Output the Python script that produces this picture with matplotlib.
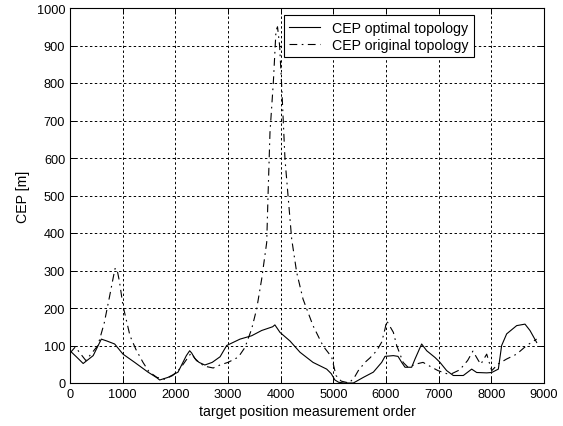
"""
CEP of optimal vs original topology along the target position measurement order.
Outputs: out.png
"""

import matplotlib

matplotlib.use("Agg")
import matplotlib.pyplot as plt

# Solid curve: CEP optimal topology
opt_x = [0, 120, 250, 440, 595, 700, 848, 1006, 1228, 1481, 1639, 1703, 1861, 2051,
         2209, 2272, 2310, 2367, 2450, 2560, 2700, 2850, 2975, 3228, 3449, 3639, 3848,
         3890, 3987, 4177, 4367, 4614, 4874, 4960, 5030, 5100, 5200, 5380, 5570, 5760,
         5918, 5981, 6140, 6228, 6298, 6361, 6487, 6551, 6677, 6773, 6931, 7025, 7152,
         7278, 7468, 7627, 7722, 7912, 8007, 8133, 8196, 8291, 8481, 8639, 8734, 8861]
opt_y = [86, 70, 52, 73, 117, 112, 104, 77, 55, 29, 15, 8, 15, 29,
         73, 86, 80, 66, 55, 48, 55, 70, 100, 117, 126, 140, 150,
         155, 135, 112, 82, 55, 37, 25, 8, 2, 0, 0, 15, 29,
         55, 71, 73, 71, 55, 42, 42, 64, 104, 86, 68, 55, 33,
         20, 20, 37, 28, 27, 28, 37, 100, 131, 153, 157, 140, 108]

# Dash-dot curve: CEP original topology
org_x = [0, 100, 300, 530, 650, 750, 854, 890, 940, 1006, 1139, 1250, 1386, 1500,
         1650, 1800, 1950, 2100, 2250, 2300, 2400, 2550, 2719, 2848, 3000, 3196, 3323,
         3449, 3545, 3639, 3735, 3760, 3797, 3861, 3911, 3940, 3980, 4019, 4082, 4145,
         4209, 4304, 4424, 4614, 4804, 4969, 5050, 5150, 5300, 5400, 5474, 5601, 5696,
         5823, 5918, 5981, 6013, 6140, 6203, 6325, 6418, 6583, 6703, 6868, 6988, 7150,
         7250, 7400, 7550, 7650, 7754, 7800, 7912, 8007, 8133, 8291, 8481, 8671, 8860]
org_y = [80, 96, 60, 100, 160, 230, 305, 305, 270, 206, 126, 90, 55, 30,
         15, 10, 20, 40, 70, 80, 60, 45, 40, 48, 55, 69, 95,
         144, 198, 277, 375, 499, 668, 802, 939, 950, 900, 793, 597, 491,
         384, 295, 224, 153, 99, 69, 20, 5, 0, 15, 33, 55, 67,
         86, 109, 144, 166, 135, 100, 55, 42, 51, 55, 42, 33, 25,
         25, 35, 60, 85, 60, 50, 77, 33, 51, 64, 77, 100, 117]

x_ticks = [0, 1000, 2000, 3000, 4000, 5000, 6000, 7000, 8000, 9000]
y_ticks = [0, 100, 200, 300, 400, 500, 600, 700, 800, 900, 1000]


def main():
    plt.rcParams["font.family"] = ["Liberation Sans", "DejaVu Sans"]
    fig = plt.figure(figsize=(5.63, 4.27), dpi=100)
    ax = fig.add_axes([70 / 563, 43 / 427, 474 / 563, 375 / 427])

    ax.plot(opt_x, opt_y, color="black", linewidth=0.8, label="CEP optimal topology")
    ax.plot(org_x, org_y, color="black", linewidth=0.8, linestyle=(0, (7, 4, 1.5, 4)),
            label="CEP original topology")

    ax.set_xlim(0, 9000)
    ax.set_ylim(0, 1000)
    ax.set_xticks(x_ticks)
    ax.set_yticks(y_ticks)
    ax.grid(True, color="black", linestyle=(0, (2.5, 2.5)), linewidth=0.7)
    ax.tick_params(direction="in", top=True, right=True, length=4, width=0.7,
                   labelsize=9.2, colors="black")
    for s in ax.spines.values():
        s.set_linewidth(0.8)

    ax.set_xlabel("target position measurement order", fontsize=10.2, labelpad=3)
    ax.set_ylabel("CEP [m]", fontsize=10.2, labelpad=5)

    leg = ax.legend(loc="upper right", bbox_to_anchor=(0.852, 0.981), fontsize=10.2,
                    frameon=True, fancybox=False, framealpha=1, edgecolor="black",
                    borderpad=0.4, handlelength=2.2, labelspacing=0.2,
                    handletextpad=0.8, borderaxespad=0)
    leg.get_frame().set_linewidth(0.8)

    fig.savefig("out.png", dpi=100)


if __name__ == "__main__":
    main()
